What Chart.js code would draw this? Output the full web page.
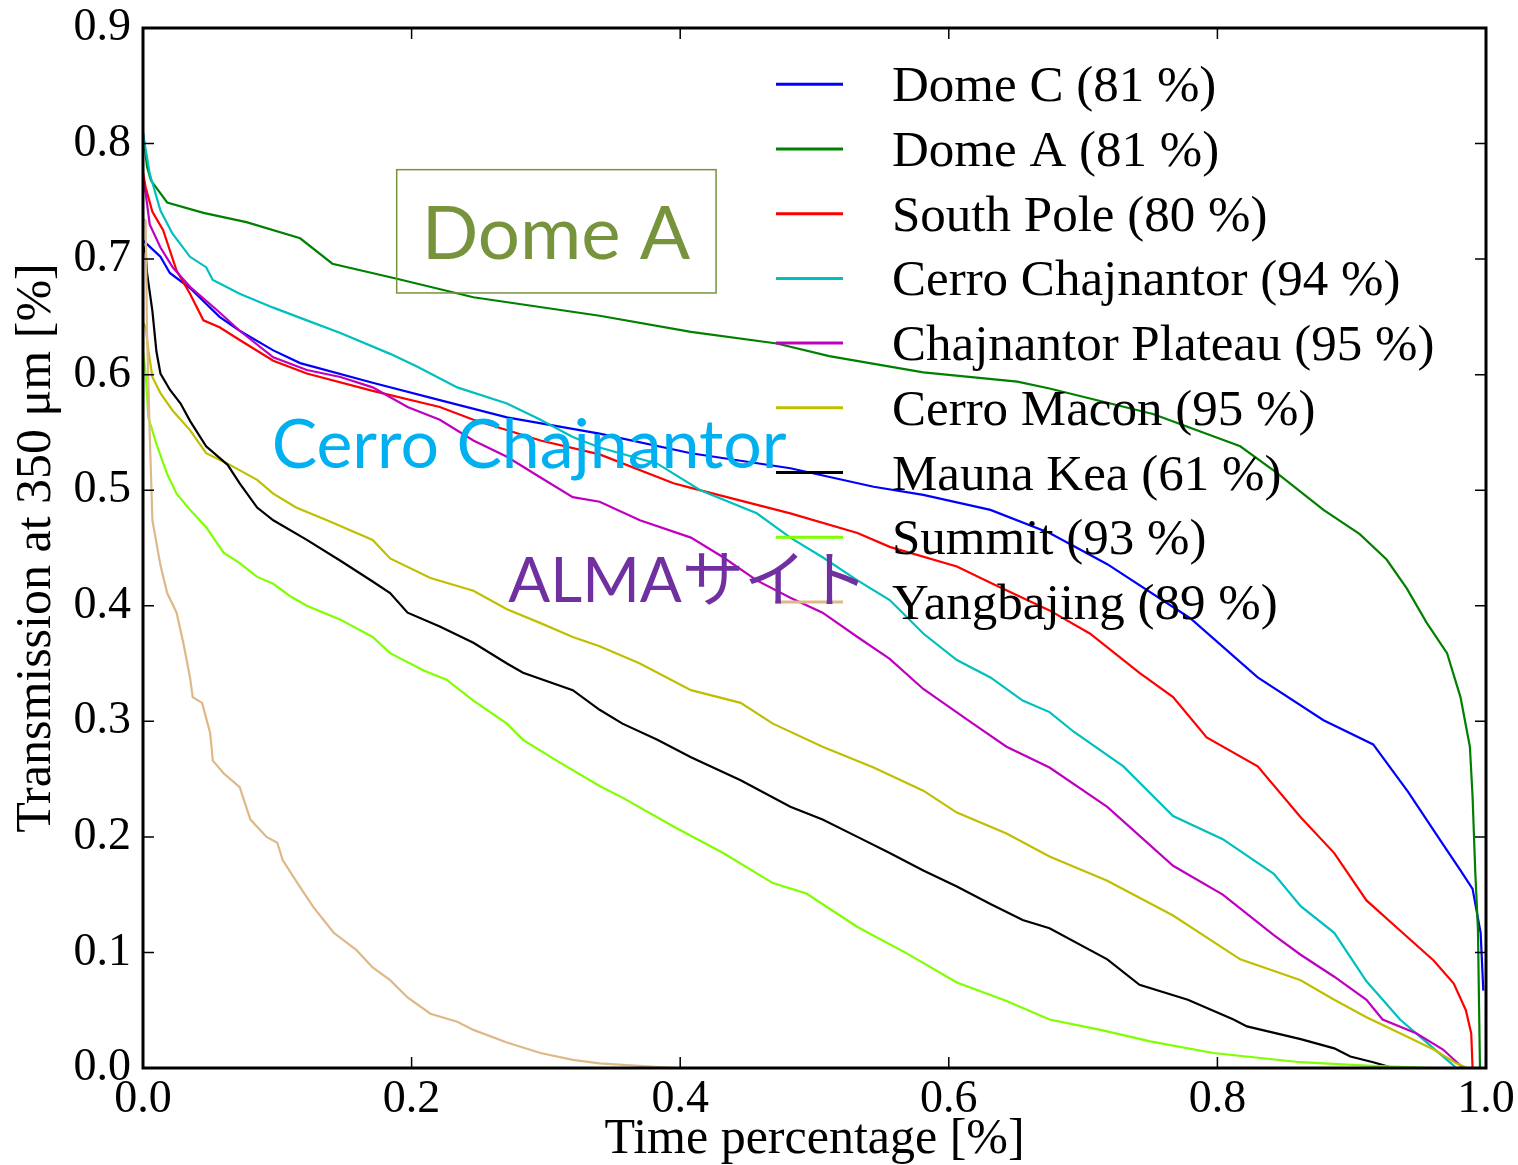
<!DOCTYPE html>
<html>
<head>
<meta charset="utf-8">
<title>Transmission at 350 um</title>
<script src="https://cdn.jsdelivr.net/npm/chart.js@4.4.1/dist/chart.umd.min.js"></script>
<style>
body { margin: 0; background: #fff; }
canvas { display: block; }
</style>
</head>
<body>
<canvas id="c1" width="1518" height="1165"></canvas>
<script>
// sites, in legend order
var siteNames = ['Dome C', 'Dome A', 'South Pole', 'Cerro Chajnantor', 'Chajnantor Plateau',
                 'Cerro Macon', 'Mauna Kea', 'Summit', 'Yangbajing'];
var sitePct = [81, 81, 80, 94, 95, 95, 61, 93, 89];
var lineColors = ['#0000ff', '#008000', '#ff0000', '#00bfbf', '#bf00bf',
                  '#bfbf00', '#000000', '#7fff00', '#deb887'];

var xTickValues = [0, 0.2, 0.4, 0.6, 0.8, 1.0];
var yTickValues = [0, 0.1, 0.2, 0.3, 0.4, 0.5, 0.6, 0.7, 0.8, 0.9];

// [time fraction, transmission]
var domeC = [[0,0.716],[0.002,0.714],[0.013,0.702],[0.02,0.688],[0.035,0.675],[0.057,0.65],[0.072,0.638],
  [0.097,0.621],[0.117,0.61],[0.171,0.593],[0.221,0.578],[0.271,0.563],[0.34,0.549],[0.408,0.532],
  [0.482,0.519],[0.544,0.503],[0.581,0.496],[0.631,0.483],[0.675,0.463],[0.718,0.436],[0.78,0.389],
  [0.83,0.338],[0.879,0.301],[0.916,0.28],[0.942,0.239],[0.966,0.197],[0.981,0.171],[0.99,0.155],
  [0.996,0.117],[0.998,0.067]];

var domeA = [[0,0.81],[0.003,0.78],[0.006,0.768],[0.018,0.749],[0.045,0.74],[0.077,0.732],[0.117,0.718],
  [0.141,0.696],[0.189,0.683],[0.246,0.667],[0.34,0.651],[0.408,0.637],[0.472,0.627],[0.511,0.616],
  [0.581,0.602],[0.651,0.594],[0.675,0.588],[0.752,0.566],[0.817,0.538],[0.842,0.517],[0.879,0.483],
  [0.906,0.462],[0.926,0.44],[0.941,0.415],[0.956,0.385],[0.971,0.359],[0.981,0.321],[0.988,0.278],
  [0.99,0.235],[0.992,0.17],[0.994,0.12],[0.9955,0]];

var southPole = [[0,0.775],[0.002,0.762],[0.007,0.741],[0.015,0.725],[0.025,0.69],[0.035,0.67],[0.045,0.647],
  [0.057,0.641],[0.072,0.63],[0.097,0.612],[0.122,0.601],[0.171,0.586],[0.221,0.572],[0.246,0.561],
  [0.296,0.543],[0.34,0.531],[0.395,0.506],[0.408,0.502],[0.482,0.48],[0.532,0.463],[0.556,0.451],
  [0.606,0.434],[0.631,0.42],[0.675,0.396],[0.705,0.376],[0.742,0.342],[0.767,0.321],[0.792,0.286],
  [0.83,0.261],[0.862,0.217],[0.887,0.186],[0.911,0.145],[0.936,0.119],[0.961,0.093],[0.976,0.073],
  [0.985,0.05],[0.989,0.03],[0.99,0]];

var cerroChaj = [[0,0.809],[0.005,0.774],[0.013,0.742],[0.022,0.722],[0.035,0.702],[0.047,0.693],[0.052,0.682],
  [0.072,0.67],[0.097,0.658],[0.122,0.647],[0.147,0.636],[0.184,0.618],[0.204,0.607],[0.234,0.589],
  [0.271,0.575],[0.296,0.561],[0.32,0.546],[0.34,0.537],[0.383,0.523],[0.415,0.5],[0.457,0.48],
  [0.482,0.459],[0.506,0.442],[0.532,0.422],[0.556,0.405],[0.581,0.376],[0.606,0.353],[0.631,0.338],
  [0.655,0.318],[0.675,0.308],[0.693,0.291],[0.73,0.261],[0.767,0.218],[0.804,0.198],[0.842,0.168],
  [0.862,0.14],[0.887,0.117],[0.911,0.075],[0.936,0.042],[0.956,0.022],[0.971,0.007],[0.978,0]];

var chajPlateau = [[0,0.765],[0.002,0.757],[0.005,0.73],[0.013,0.71],[0.022,0.693],[0.035,0.676],[0.055,0.656],
  [0.072,0.638],[0.097,0.615],[0.122,0.604],[0.147,0.598],[0.171,0.589],[0.197,0.572],[0.221,0.561],
  [0.246,0.543],[0.271,0.529],[0.296,0.511],[0.32,0.494],[0.34,0.49],[0.37,0.474],[0.408,0.459],
  [0.432,0.442],[0.457,0.422],[0.482,0.407],[0.506,0.394],[0.532,0.373],[0.556,0.354],[0.581,0.328],
  [0.618,0.298],[0.643,0.278],[0.675,0.26],[0.718,0.226],[0.767,0.175],[0.804,0.15],[0.842,0.115],
  [0.862,0.098],[0.887,0.079],[0.911,0.059],[0.923,0.042],[0.948,0.03],[0.968,0.016],[0.983,0]];

var cerroMacon = [[0,0.645],[0.002,0.641],[0.004,0.621],[0.007,0.598],[0.013,0.584],[0.022,0.569],[0.035,0.552],
  [0.047,0.532],[0.063,0.523],[0.085,0.509],[0.097,0.497],[0.114,0.485],[0.137,0.474],[0.171,0.457],
  [0.184,0.441],[0.214,0.424],[0.246,0.413],[0.271,0.397],[0.296,0.385],[0.32,0.373],[0.34,0.365],
  [0.37,0.35],[0.408,0.327],[0.445,0.316],[0.469,0.298],[0.506,0.278],[0.544,0.26],[0.581,0.24],
  [0.606,0.221],[0.643,0.203],[0.675,0.183],[0.718,0.162],[0.767,0.132],[0.817,0.094],[0.862,0.076],
  [0.887,0.059],[0.911,0.044],[0.936,0.03],[0.961,0.016],[0.978,0.004],[0.986,0]];

var maunaKea = [[0,0.712],[0.002,0.705],[0.003,0.688],[0.007,0.655],[0.01,0.62],[0.013,0.601],[0.02,0.587],
  [0.028,0.575],[0.035,0.56],[0.047,0.538],[0.063,0.522],[0.072,0.506],[0.085,0.485],[0.097,0.474],
  [0.122,0.457],[0.147,0.439],[0.171,0.421],[0.184,0.411],[0.197,0.394],[0.221,0.382],[0.246,0.368],
  [0.271,0.35],[0.283,0.342],[0.32,0.327],[0.34,0.31],[0.357,0.298],[0.383,0.284],[0.408,0.269],
  [0.445,0.249],[0.482,0.226],[0.506,0.215],[0.532,0.2],[0.556,0.186],[0.581,0.171],[0.606,0.157],
  [0.631,0.142],[0.655,0.128],[0.675,0.121],[0.718,0.094],[0.742,0.072],[0.778,0.059],[0.812,0.042],
  [0.822,0.036],[0.862,0.025],[0.887,0.017],[0.899,0.01],[0.916,0.005],[0.931,0]];

var summit = [[0,0.62],[0.002,0.601],[0.004,0.563],[0.01,0.54],[0.018,0.514],[0.025,0.497],[0.035,0.483],
  [0.047,0.468],[0.06,0.446],[0.072,0.437],[0.085,0.425],[0.097,0.419],[0.11,0.408],[0.122,0.4],
  [0.147,0.388],[0.171,0.373],[0.184,0.359],[0.209,0.344],[0.226,0.336],[0.246,0.318],[0.271,0.298],
  [0.283,0.284],[0.308,0.266],[0.34,0.244],[0.357,0.234],[0.395,0.209],[0.432,0.186],[0.469,0.16],
  [0.494,0.151],[0.532,0.122],[0.569,0.099],[0.606,0.074],[0.643,0.058],[0.675,0.042],[0.713,0.033],
  [0.75,0.023],[0.797,0.013],[0.862,0.005],[0.911,0.002],[0.962,0]];

var yangbajing = [[0,0.735],[0.002,0.733],[0.003,0.636],[0.005,0.549],[0.007,0.474],[0.013,0.435],[0.018,0.411],
  [0.025,0.394],[0.03,0.368],[0.035,0.338],[0.037,0.321],[0.044,0.316],[0.05,0.29],[0.052,0.266],
  [0.06,0.255],[0.072,0.243],[0.08,0.215],[0.092,0.2],[0.1,0.195],[0.104,0.18],[0.115,0.16],[0.127,0.139],
  [0.142,0.117],[0.159,0.102],[0.171,0.087],[0.184,0.076],[0.197,0.061],[0.214,0.047],[0.234,0.04],
  [0.246,0.033],[0.271,0.022],[0.296,0.013],[0.32,0.007],[0.34,0.004],[0.395,0]];

var siteSeries = [domeC, domeA, southPole, cerroChaj, chajPlateau, cerroMacon, maunaKea, summit, yangbajing];

// text pasted over the figure, placed in data units
var overlayNotes = [
  { text: 'Dome A', color: '#77933c', x0: 0.2075, x1: 0.4073, y: 0.7004, box: [0.1889, 0.7774, 0.4267, 0.6707] },
  { text: 'Cerro Chajnantor', color: '#00b0f0', x0: 0.0958, x1: 0.4793, y: 0.519 },
  { text: 'ALMAサイト', color: '#7030a0', x0: 0.272, x1: 0.540, y: 0.403 }
];

var serif = '"Liberation Serif", "Times New Roman", serif';

var datasets = siteSeries.map(function(s, i) {
  return {
    label: siteNames[i] + ' (' + sitePct[i] + ' %)',
    data: s.map(function(p) { return { x: p[0], y: p[1] }; }),
    borderColor: lineColors[i],
    borderWidth: 2.2,
    pointRadius: 0,
    fill: false,
    tension: 0,
    order: siteSeries.length - i
  };
});

// axes frame with inward ticks on all four sides
var framePlugin = {
  id: 'frame',
  afterDatasetsDraw: function(chart) {
    var ctx = chart.ctx, a = chart.chartArea, xs = chart.scales.x, ys = chart.scales.y;
    ctx.save();
    ctx.strokeStyle = '#000';
    ctx.lineWidth = 1.5;
    ctx.beginPath();
    xTickValues.forEach(function(v) {
      var px = xs.getPixelForValue(v);
      ctx.moveTo(px, a.bottom); ctx.lineTo(px, a.bottom - 11);
      ctx.moveTo(px, a.top); ctx.lineTo(px, a.top + 11);
    });
    yTickValues.forEach(function(v) {
      var py = ys.getPixelForValue(v);
      ctx.moveTo(a.left, py); ctx.lineTo(a.left + 11, py);
      ctx.moveTo(a.right, py); ctx.lineTo(a.right - 11, py);
    });
    ctx.stroke();
    ctx.lineWidth = 3;
    ctx.strokeRect(a.left, a.top, a.right - a.left, a.bottom - a.top);
    ctx.restore();
  }
};

var legendPlugin = {
  id: 'siteLegend',
  afterDraw: function(chart) {
    var ctx = chart.ctx;
    ctx.save();
    ctx.font = '51px ' + serif;
    ctx.textBaseline = 'alphabetic';
    ctx.textAlign = 'left';
    chart.data.datasets.forEach(function(ds, i) {
      var y = 84.3 + 64.7 * i;
      ctx.strokeStyle = ds.borderColor;
      ctx.lineWidth = 3;
      ctx.beginPath();
      ctx.moveTo(776, y); ctx.lineTo(843, y);
      ctx.stroke();
      ctx.fillStyle = '#000';
      ctx.fillText(ds.label, 892, y + 17);
    });
    ctx.restore();
  }
};

var notesPlugin = {
  id: 'notes',
  afterDraw: function(chart) {
    var ctx = chart.ctx, xs = chart.scales.x, ys = chart.scales.y;
    ctx.save();
    overlayNotes.forEach(function(n) {
      var left = xs.getPixelForValue(n.x0), right = xs.getPixelForValue(n.x1);
      ctx.font = '100px Lato, "Noto Sans CJK JP", sans-serif';
      var size = 100 * (right - left) / ctx.measureText(n.text).width;
      ctx.font = size.toFixed(1) + 'px Lato, "Noto Sans CJK JP", sans-serif';
      ctx.fillStyle = n.color;
      ctx.textBaseline = 'alphabetic';
      ctx.textAlign = 'left';
      ctx.fillText(n.text, left, ys.getPixelForValue(n.y));
      if (n.box) {
        var bx0 = xs.getPixelForValue(n.box[0]), by0 = ys.getPixelForValue(n.box[1]);
        var bx1 = xs.getPixelForValue(n.box[2]), by1 = ys.getPixelForValue(n.box[3]);
        ctx.strokeStyle = n.color;
        ctx.lineWidth = 1.5;
        ctx.strokeRect(bx0, by0, bx1 - bx0, by1 - by0);
      }
    });
    ctx.restore();
  }
};

var ctx = document.getElementById('c1').getContext('2d');
var chart1 = new Chart(ctx, {
  type: 'line',
  data: { datasets: datasets },
  options: {
    responsive: false,
    animation: false,
    devicePixelRatio: 1,
    layout: { padding: { left: 0, right: 32, top: 28, bottom: 0 } },
    plugins: { legend: { display: false }, tooltip: { enabled: false } },
    scales: {
      x: {
        type: 'linear', min: 0, max: 1,
        grid: { display: false, drawTicks: false },
        border: { display: false },
        afterBuildTicks: function(s) { s.ticks = xTickValues.map(function(v) { return { value: v }; }); },
        afterFit: function(s) { s.height = 97; s.paddingLeft = 0; s.paddingRight = 0; },
        ticks: {
          color: '#000', padding: 4, maxRotation: 0, autoSkip: false,
          font: { family: serif, size: 46 },
          callback: function(v) { return Number(v).toFixed(1); }
        },
        title: {
          display: true, text: 'Time percentage [%]', color: '#000',
          font: { family: serif, size: 50, lineHeight: 1 },
          padding: { top: 0, bottom: 0 }
        }
      },
      y: {
        type: 'linear', min: 0, max: 0.9,
        grid: { display: false, drawTicks: false },
        border: { display: false },
        afterBuildTicks: function(s) { s.ticks = yTickValues.map(function(v) { return { value: v }; }); },
        afterFit: function(s) { s.width = 143; s.paddingTop = 0; s.paddingBottom = 0; },
        ticks: {
          color: '#000', padding: 12,
          font: { family: serif, size: 46 },
          callback: function(v) { return Number(v).toFixed(1); }
        },
        title: {
          display: true, text: 'Transmission at 350 μm [%]', color: '#000',
          font: { family: serif, size: 50, lineHeight: 1 },
          padding: { top: 12, bottom: 0 }
        }
      }
    }
  },
  plugins: [framePlugin, legendPlugin, notesPlugin]
});
</script>
</body>
</html>
